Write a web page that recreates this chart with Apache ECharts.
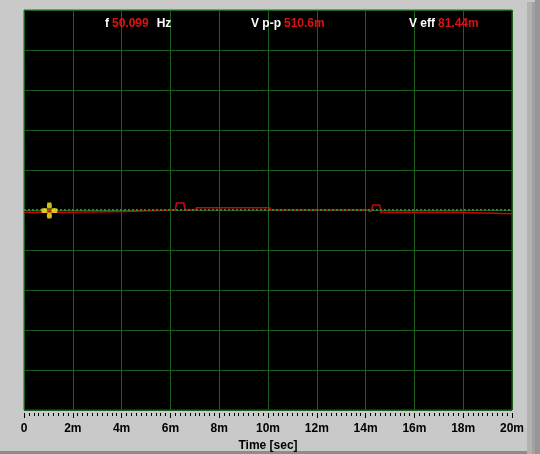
<!DOCTYPE html>
<html lang="en">
<head>
  <meta charset="UTF-8">
  <title>Scope trace</title>
  <script src="https://cdn.jsdelivr.net/npm/echarts@6/dist/echarts.min.js"></script>
  <style>
    html, body { margin: 0; padding: 0; background: #c9c9c9; }
  </style>
</head>
<body>
  <div id="chart" style="width:540px;height:454px;"></div>
  <script>
    // time in ms, signal in V
    var timeMs = [0, 0.1, 1.75, 1.76, 4.14, 4.15, 6.2, 6.25, 6.55, 6.6, 7.05, 7.06, 10.08, 10.09, 14.08, 14.1, 14.22, 14.3, 14.58, 14.62, 17.75, 17.76, 20];
    var volts  = [-0.165, -0.115, -0.115, -0.075, -0.075, 0.0, 0.0, 0.35, 0.35, 0.0, 0.0, 0.115, 0.115, 0.0, 0.0, -0.085, -0.085, 0.25, 0.25, -0.115, -0.115, -0.185, -0.185];
    var xTicks = [0, 2, 4, 6, 8, 10, 12, 14, 16, 18, 20];
    var cursorPos = [1.04, -0.02];
    var readout = { f: '50.099', vpp: '510.6m', veff: '81.44m' };

    var trace = timeMs.map(function (t, i) { return [t, volts[i]]; });

    var chart = echarts.init(document.getElementById('chart'));
    var font = 'Liberation Sans';

    function head(left, parts) {
      return {
        left: left, top: 18, padding: 0,
        text: parts,
        textStyle: {
          rich: {
            w: { color: '#ffffff', fontFamily: font, fontWeight: 'bold', fontSize: 12 },
            r: { color: '#e01010', fontFamily: font, fontWeight: 'bold', fontSize: 12, padding: [0, 0, 0, 3] },
            h: { color: '#ffffff', fontFamily: font, fontWeight: 'bold', fontSize: 12, padding: [0, 0, 0, 8] }
          }
        }
      };
    }

    var gridGreen = '#1c5e1c';

    var option = {
      backgroundColor: '#c9c9c9',
      animation: false,
      title: [
        head(105, '{w|f}{r|' + readout.f + '}{h|Hz}'),
        head(251, '{w|V p-p}{r|' + readout.vpp + '}'),
        head(409, '{w|V eff}{r|' + readout.veff + '}')
      ],
      graphic: [
        { type: 'rect', shape: { x: 527, y: 2, width: 5, height: 452 }, style: { fill: '#b2b2b2' } },
        { type: 'rect', shape: { x: 532, y: 2, width: 3, height: 452 }, style: { fill: '#a2a2a2' } },
        { type: 'rect', shape: { x: 535, y: 0, width: 5, height: 454 }, style: { fill: '#969696' } },
        { type: 'rect', shape: { x: 0, y: 451, width: 527, height: 3 }, style: { fill: '#8c8c8c' } }
      ],
      grid: {
        left: 24, right: 28, top: 10, bottom: 44, outerBoundsMode: 'none',
        show: true, backgroundColor: '#000000', borderColor: '#4a4a4a', borderWidth: 1
      },
      xAxis: {
        type: 'value', min: 0, max: 20, interval: 2, offset: 3,
        name: 'Time [sec]', nameLocation: 'middle', nameGap: 26,
        nameTextStyle: { color: '#000', fontFamily: font, fontWeight: 'bold', fontSize: 12 },
        axisLine: { show: false, onZero: false },
        axisTick: { show: true, length: 5, lineStyle: { color: '#000' } },
        minorTick: { show: true, splitNumber: 10, length: 3, lineStyle: { color: '#000' } },
        axisLabel: {
          color: '#000', fontFamily: font, fontWeight: 'bold', fontSize: 12, margin: 10,
          formatter: function (v) { return xTicks.indexOf(v) < 0 ? '' : (v === 0 ? '0' : v + 'm'); }
        },
        splitLine: { show: true, lineStyle: { color: gridGreen, width: 1 } }
      },
      yAxis: {
        type: 'value', min: -10, max: 10, interval: 2,
        axisLine: { show: false }, axisTick: { show: false }, axisLabel: { show: false },
        splitLine: { show: true, lineStyle: { color: gridGreen, width: 1 } }
      },
      series: [
        {
          type: 'line', data: trace, showSymbol: false, silent: true,
          lineStyle: { color: '#c80808', width: 1.5 },
          markLine: {
            silent: true, symbol: 'none', label: { show: false },
            lineStyle: { color: '#2e8a2e', type: [2, 2], width: 2 },
            data: [{ yAxis: 0 }]
          },
          z: 3
        },
        {
          type: 'scatter', data: [cursorPos], silent: true, z: 5,
          symbol: 'path://M6,0 L10,0 Q11,3 10,6 L6,6 Q5,3 6,0 Z M6,16 L10,16 Q11,13 10,10 L6,10 Q5,13 6,16 Z M0,6 L0,10 Q3,11 6,10 L6,6 Q3,5 0,6 Z M16,6 L16,10 Q13,11 10,10 L10,6 Q13,5 16,6 Z',
          symbolSize: 16,
          itemStyle: { color: '#ffee22' }
        },
        {
          type: 'scatter', data: [cursorPos], silent: true, z: 6,
          symbol: 'rect', symbolSize: 3, itemStyle: { color: '#d83010' }
        }
      ]
    };

    chart.setOption(option);
  </script>
</body>
</html>
